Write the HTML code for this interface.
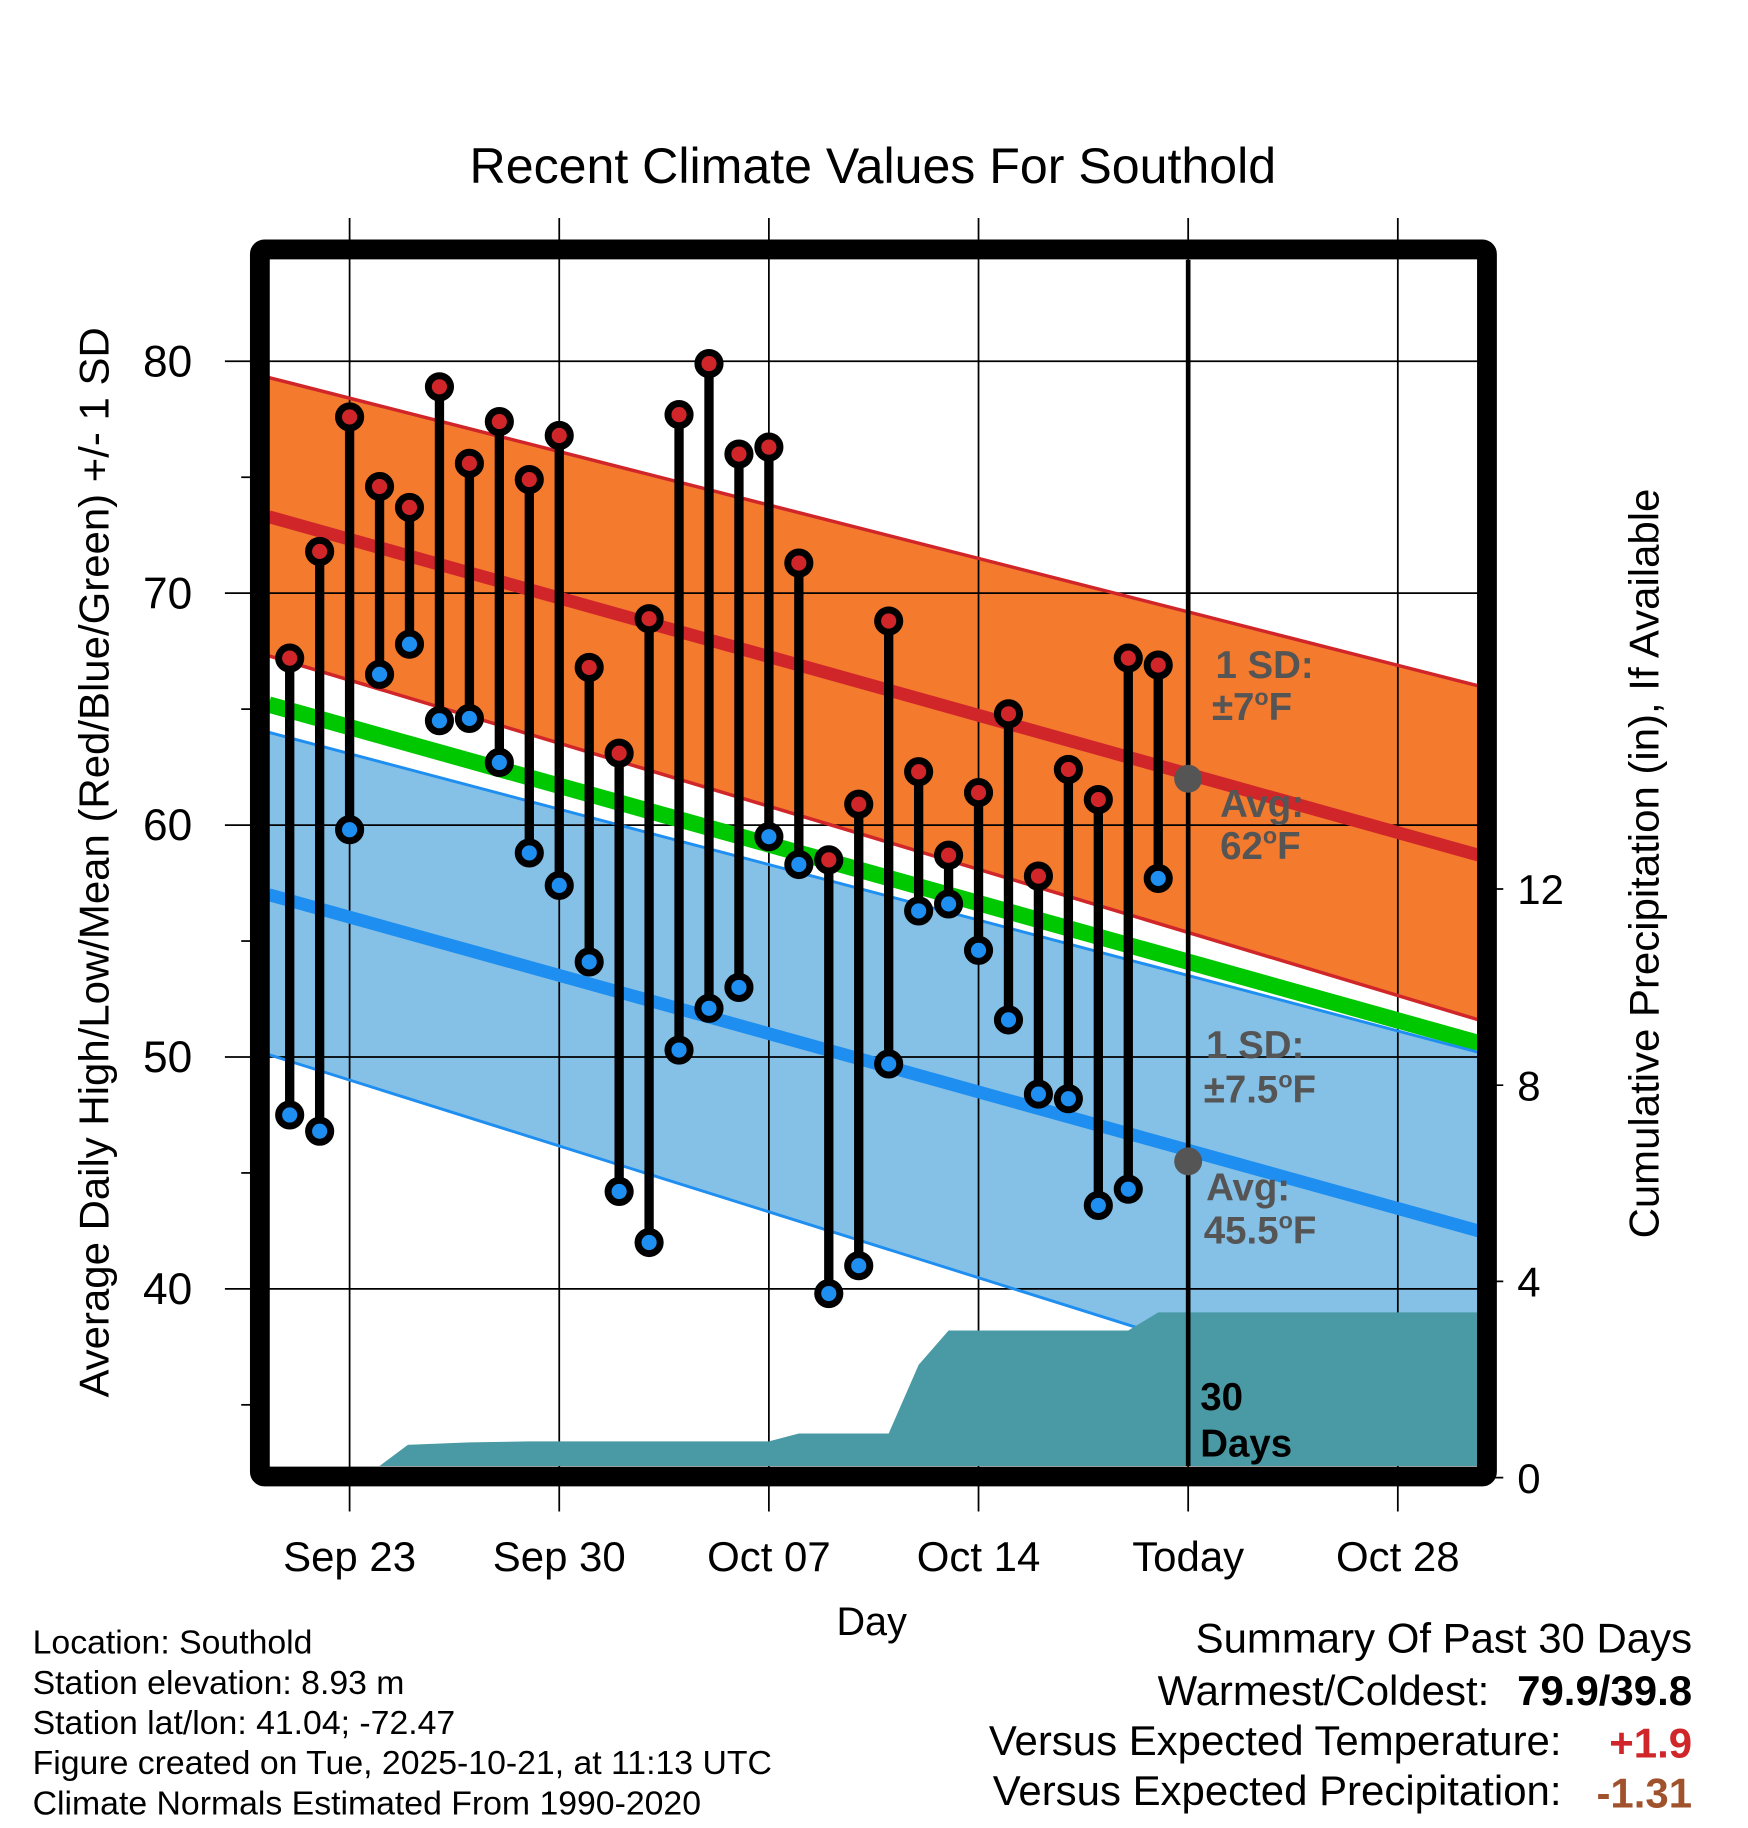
<!DOCTYPE html>
<html><head><meta charset="utf-8"><style>
html,body{margin:0;padding:0;background:#fff}
svg{display:block;font-family:"Liberation Sans",Arial,sans-serif}
</style></head><body>
<svg id="chart" width="1748" height="1828" viewBox="0 0 1500 1568.6" xmlns="http://www.w3.org/2000/svg">
<g id="fills"></g><g id="grid"></g><g id="precip"></g><g id="lines"></g><g id="marks"></g><g id="frame"></g><g id="labels"></g>
</svg>
<script>
// ---- data ----
const dayLabels = ["Sep 23","Sep 30","Oct 07","Oct 14","Today","Oct 28"];
const dayTicks = [0,7,14,21,28,35]; // days since Sep 23
const yTicks = [40,50,60,70,80];
const precipTicks = [0,4,8,12];
const obsDays = [-2,-1,0,1,2,3,4,5,6,7,8,9,10,11,12,13,14,15,16,17,18,19,20,21,22,23,24,25,26,27];
const highs = [67.2,71.8,77.6,74.6,73.7,78.9,75.6,77.4,74.9,76.8,66.8,63.1,68.9,77.7,79.9,76.0,76.3,71.3,58.5,60.9,68.8,62.3,58.7,61.4,64.8,57.8,62.4,61.1,67.2,66.9];
const lows = [47.5,46.8,59.8,66.5,67.8,64.5,64.6,62.7,58.8,57.4,54.1,44.2,42.0,50.3,52.1,53.0,59.5,58.3,39.8,41.0,49.7,56.3,56.6,54.6,51.6,48.4,48.2,43.6,44.3,57.7];
const precipDays = [-2,1,1.95,2,4,6,14,15,18,19,20,26,27,37.7];
const precipCum = [0,0,0.67,0.67,0.72,0.74,0.74,0.9,0.9,2.3,3.0,3.0,3.37,3.37];
const normDays = [-2.7,37.7];
const highUpper = [79.3,66.0];
const normHigh = [73.3,58.7];
const highLower = [67.3,51.6];
const normMean = [65.2,50.6];
const lowUpper = [64.0,50.2];
const normLow = [57.0,42.5];
const lowLower = [50.1,33.7];
const todayAvg = [62,45.5];

// ---- axes ----
const X0=231,X1=1268,Y0=223,Y1=1258;
const x = d => 300 + d*25.7;
const y = t => 310 + (80-t)*19.9;
const py = p => 1268 - p*42.1;
const NS="http://www.w3.org/2000/svg";
function mk(parent,tag,attrs,text){const e=document.createElementNS(NS,tag);for(const k in attrs)e.setAttribute(k,attrs[k]);if(text!==undefined)e.textContent=text;document.getElementById(parent).appendChild(e);return e;}
const nd=normDays;
function band(a,b){return `${x(nd[0])},${y(a[0])} ${x(nd[1])},${y(a[1])} ${x(nd[1])},${y(b[1])} ${x(nd[0])},${y(b[0])}`;}
let e;
e=mk('fills','polygon',{points:band(highUpper,highLower),fill:'#f47a2e'});


e=mk('fills','polygon',{points:band(lowUpper,lowLower),fill:'#85c1e6'});


// grid
yTicks.forEach(t=>{e=mk('grid','line',{x1:193,x2:X1,y1:y(t),y2:y(t),stroke:'#000','stroke-width':1.5});


mk('labels','text',{x:165,y:y(t)+13,'font-size':38,'text-anchor':'end'},String(t));});
[35,45,55,65,75].forEach(t=>mk('grid','line',{x1:207,x2:216,y1:y(t),y2:y(t),stroke:'#000','stroke-width':1.5}));
dayTicks.forEach((d,i)=>{e=mk('grid','line',{x1:x(d),x2:x(d),y1:187,y2:1297,stroke:'#000','stroke-width':1.5});


e=mk('labels','text',{x:x(d),y:1348,'font-size':36,'text-anchor':'middle'},dayLabels[i]);

});
precipTicks.forEach(p=>{mk('grid','line',{x1:1276,x2:1290,y1:py(p),y2:py(p),stroke:'#000','stroke-width':1.5});
mk('labels','text',{x:1302,y:py(p)+13,'font-size':36},String(p));});
// precip area
let pts=precipDays.map((d,i)=>`${Math.max(x(d),X0)},${Math.min(py(precipCum[i]),Y1)}`);
pts.push(`${X1},${Y1}`,`${x(precipDays[0])},${Y1}`);
e=mk('precip','polygon',{points:pts.join(' '),fill:'#4a9aa5'});


// lines
function ln(arr,col,w,name){e=mk('lines','line',{x1:x(nd[0]),y1:y(arr[0]),x2:x(nd[1]),y2:y(arr[1]),stroke:col,'stroke-width':w});

}
ln(highUpper,'#d0262a',3,'high-upper-sd-line');
ln(highLower,'#d0262a',3,'high-lower-sd-line');
ln(normHigh,'#d0262a',11,'normal-high-line');
ln(normMean,'#00c800',14,'normal-mean-line');
ln(lowUpper,'#1e8ef0',2.5,'low-upper-sd-line');
ln(lowLower,'#1e8ef0',2.5,'low-lower-sd-line');
ln(normLow,'#1e8ef0',11,'normal-low-line');
// re-draw precip above lower blue line
document.getElementById('lines').after(document.getElementById('precip'));
e=mk('marks','line',{x1:x(28),x2:x(28),y1:Y0,y2:Y1,stroke:'#000','stroke-width':4});


// marks
obsDays.forEach((d,i)=>{
 e=mk('marks','line',{x1:x(d),x2:x(d),y1:y(highs[i]),y2:y(lows[i]),stroke:'#000','stroke-width':8});
 
 
 [[highs[i],'#d0262a','high-point'],[lows[i],'#1e8ef0','low-point']].forEach(([v,c,n])=>{
  e=mk('marks','circle',{cx:x(d),cy:y(v),r:9.5,fill:c,stroke:'#000','stroke-width':6});
  
  
 });
});
// avg today dots
todayAvg.forEach((v,i)=>{
 e=mk('marks','circle',{cx:x(28),cy:y(v),r:12,fill:'#555'});
 
 
});
// frame
e=mk('frame','rect',{x:223,y:214,width:1053,height:1053,fill:'none',stroke:'#000','stroke-width':17,rx:4});


</script>
<script>
function T(x,y,s,txt,name,extra){const e=document.createElementNS("http://www.w3.org/2000/svg",'text');e.setAttribute('x',x);e.setAttribute('y',y);e.setAttribute('font-size',s);for(const k in (extra||{}))e.setAttribute(k,extra[k]);e.innerHTML=txt;


document.getElementById('labels').appendChild(e);return e;}
T(749,157,43,'Recent Climate Values For Southold','chart-title',{'text-anchor':'middle'});
T(748,1403,34,'Day','x-axis-title',{'text-anchor':'middle'});
T(0,0,36,'Average Daily High/Low/Mean (Red/Blue/Green) +/- 1 SD','y-axis-title',{'text-anchor':'middle',transform:'translate(93,740) rotate(-90)'});
T(0,0,36,'Cumulative Precipitation (in), If Available','right-axis-title',{'text-anchor':'middle',transform:'translate(1423,741) rotate(-90)'});
const g={fill:'#555','font-weight':'bold'};
const sup='<tspan font-size="20" dy="-13">o</tspan><tspan dy="13">F</tspan>';
T(1043,582,33,'1 SD:','high-sd-annotation',g);
T(1040,618,33,'±7'+sup,'high-sd-value',g);
T(1047,701,33,'Avg:','high-avg-annotation',g);
T(1047,737,33,'62'+sup,'high-avg-value',g);
T(1035,908,33,'1 SD:','low-sd-annotation',g);
T(1033,946,33,'±7.5'+sup,'low-sd-value',g);
T(1035,1030,33,'Avg:','low-avg-annotation',g);
T(1033,1067,33,'45.5'+sup,'low-avg-value',g);
T(1030,1210,33,'30','days-label',{'font-weight':'bold'});
T(1030,1250,33,'Days','days-label-2',{'font-weight':'bold'});
['Location: Southold','Station elevation: 8.93 m','Station lat/lon: 41.04; -72.47','Figure created on Tue, 2025-10-21, at 11:13 UTC','Climate Normals Estimated From 1990-2020'].forEach((s,i)=>T(28,1419+i*34.5,29,s,'station-info-line'));
T(1452,1418,36,'Summary Of Past 30 Days','summary-title',{'text-anchor':'end'});
T(1278,1463,36,'Warmest/Coldest:','warmest-coldest-label',{'text-anchor':'end'});
T(1452,1463,36,'79.9/39.8','warmest-coldest-value',{'text-anchor':'end','font-weight':'bold'});
T(1340,1506,36,'Versus Expected Temperature:','temp-anomaly-label',{'text-anchor':'end'});
T(1452,1508,36,'+1.9','temp-anomaly-value',{'text-anchor':'end','font-weight':'bold',fill:'#d0262a'});
T(1340,1549,36,'Versus Expected Precipitation:','precip-anomaly-label',{'text-anchor':'end'});
T(1452,1551,36,'-1.31','precip-anomaly-value',{'text-anchor':'end','font-weight':'bold',fill:'#a0522d'});
</script>
</body></html>
